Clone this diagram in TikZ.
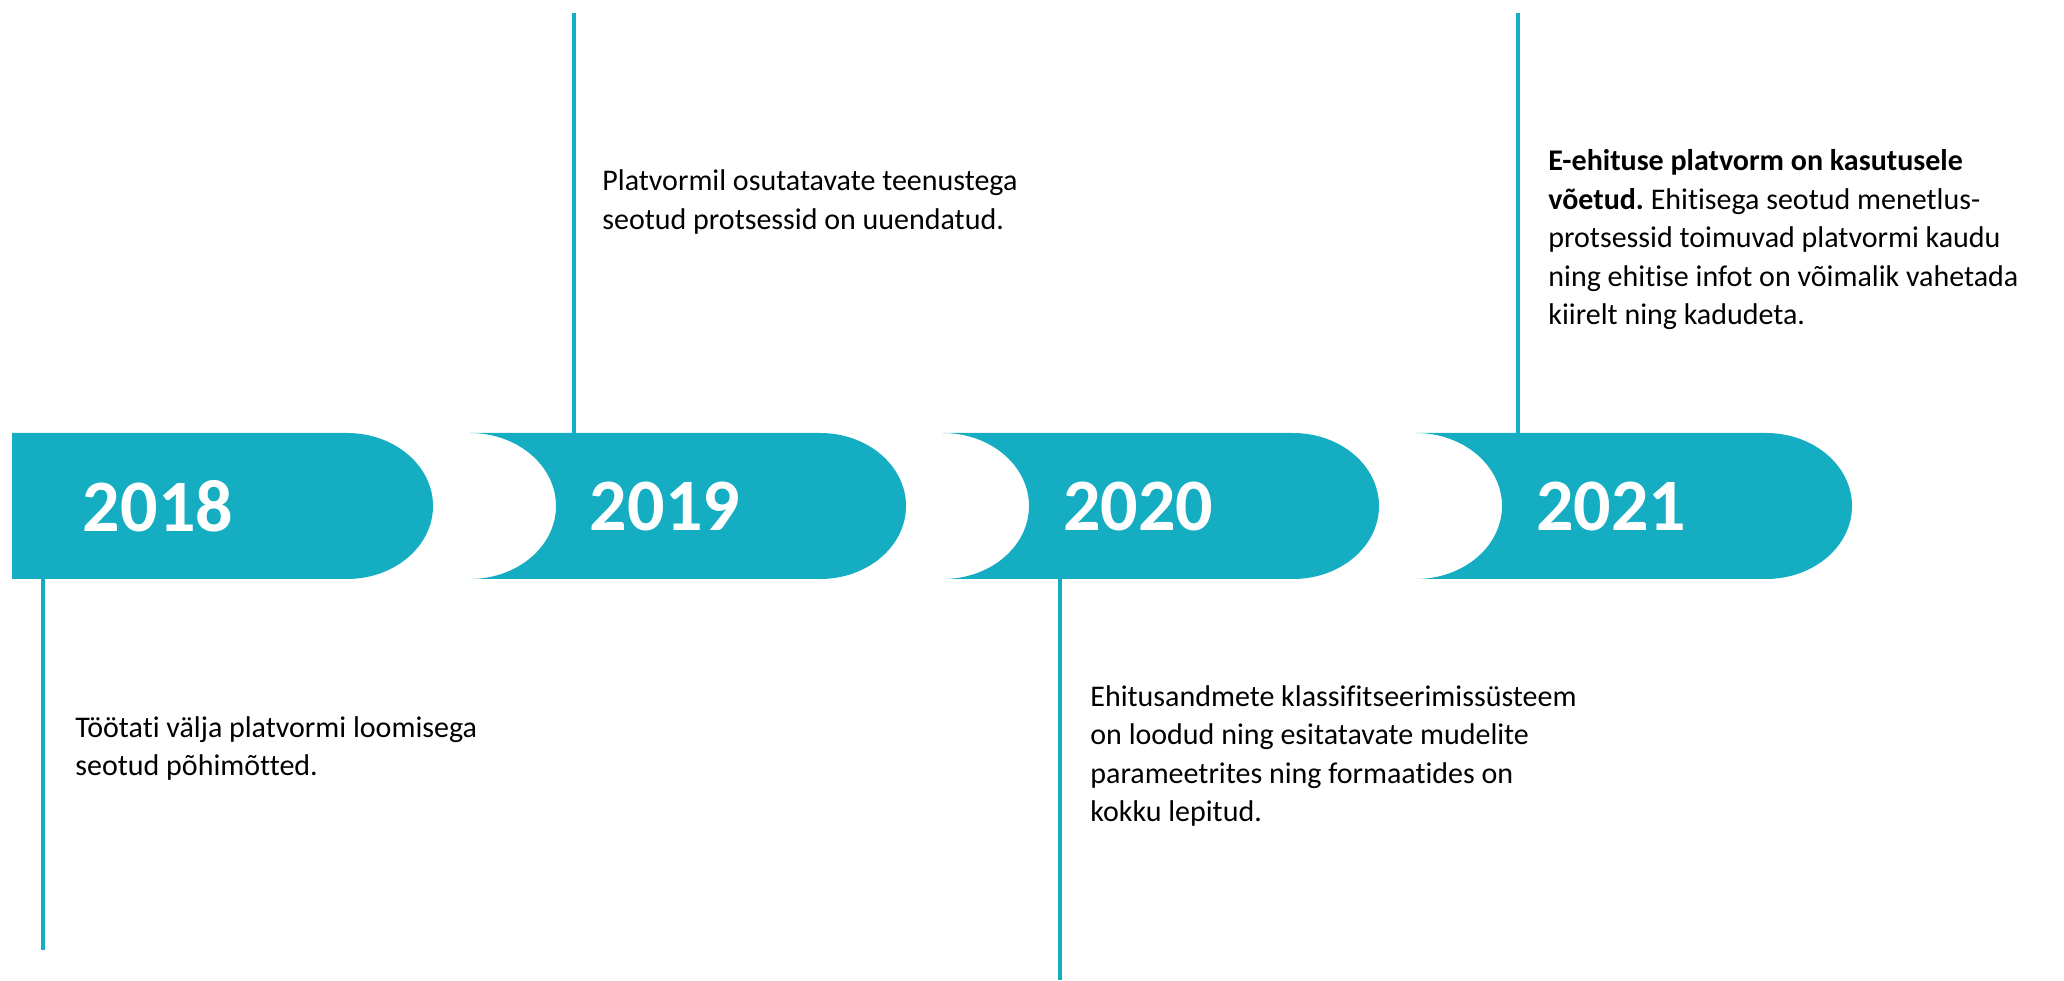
\documentclass[tikz,border=0pt]{standalone}
\usepackage{fontspec}
\setmainfont{Carlito}[Ligatures=NoCommon]
\frenchspacing
\definecolor{tlteal}{RGB}{21,173,194}
\tikzset{
  yearlbl/.style={text=white,inner sep=0pt,font=\bfseries\fontsize{37}{44}\selectfont},
  notelbl/.style={anchor=base west,align=left,inner sep=0pt,font=\fontsize{15}{19.25}\selectfont},
  tick/.style={draw=tlteal,line width=2pt}
}

\begin{document}
\begin{tikzpicture}[x=0.5pt,y=0.5pt]
  \useasboundingbox (0,0) rectangle (2064,980);
  \xdef\gap{473}
  % first box, flat on the left
  \fill[tlteal] (12,401) -- (347,401) arc[start angle=-90,end angle=90,x radius=86,y radius=73] -- (12,547) -- cycle;
  % the other boxes, cut out on the left
  \foreach \i in {1,2,3}{
    \fill[tlteal] (\i*\gap-3,547) -- (\i*\gap+347,547)
      arc[start angle=90,end angle=-90,x radius=86,y radius=73]
      -- (\i*\gap-3,401)
      arc[start angle=-90,end angle=90,x radius=86,y radius=73] -- cycle;
  }

  \node[yearlbl] (y2018) at (158,474) {2018};
  \foreach \i/\yr in {1/2019,2/2020,3/2021}{
    \node[yearlbl] (y\yr) at (\i*\gap+192,474) {\yr};
  }

  \coordinate (a2018) at (43,401);   \coordinate (b2018) at (43,30);
  \coordinate (a2019) at (574,547);  \coordinate (b2019) at (574,967);
  \coordinate (a2020) at (1060,401); \coordinate (b2020) at (1060,0);
  \coordinate (a2021) at (1518,547); \coordinate (b2021) at (1518,967);
  \foreach \yr in {2018,2019,2020,2021}{
    \draw[tick] (a\yr) -- (b\yr);
  }

  % base = baseline of the last line
  \node[notelbl] (n2018) at (75,204.5) {Töötati välja platvormi loomisega\\seotud põhimõtted.};
  \node[notelbl] (n2019) at (602,750.5) {Platvormil osutatavate teenustega\\seotud protsessid on uuendatud.};
  \node[notelbl] (n2020) at (1090,158.5) {Ehitusandmete klassifitseerimissüsteem\\on loodud ning esitatavate mudelite\\parameetrites ning formaatides on\\kokku lepitud.};
  \node[notelbl] (n2021) at (1548,655) {\textbf{E-ehituse platvorm on kasutusele}\\\textbf{võetud.} Ehitisega seotud menetlus-\\protsessid toimuvad platvormi kaudu\\ning ehitise infot on võimalik vahetada\\kiirelt ning kadudeta.};
\end{tikzpicture}
\end{document}
